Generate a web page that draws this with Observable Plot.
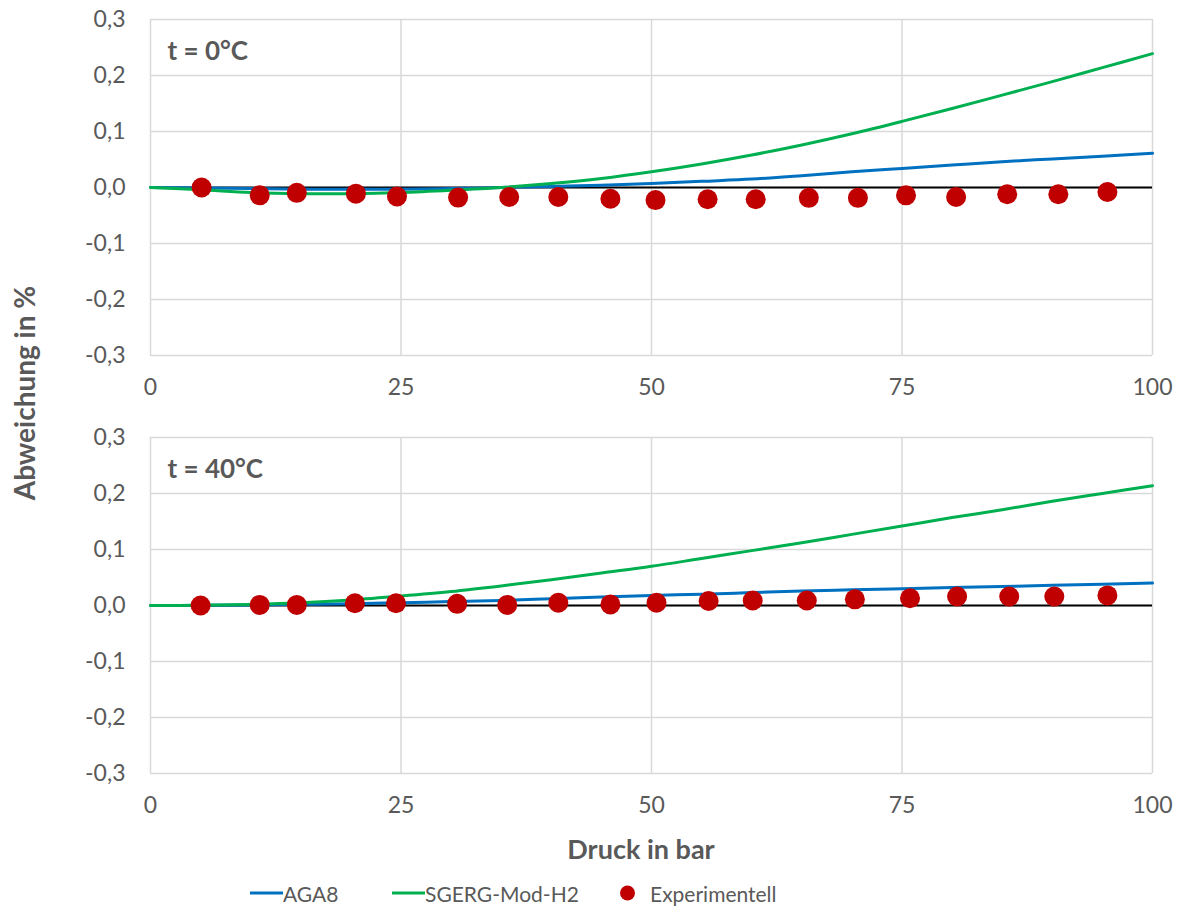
<!DOCTYPE html>
<html><head><meta charset="utf-8">
<script src="https://cdn.jsdelivr.net/npm/d3@7"></script>
<script src="https://cdn.jsdelivr.net/npm/@observablehq/plot@0.6"></script>
<style>
body{margin:0;background:#fff;font-family:Lato,"Open Sans",sans-serif;}
#wrap{position:relative;width:1185px;height:917px;overflow:hidden;}
.panel{position:absolute;left:0;}
.ytitle{position:absolute;left:24px;top:393px;transform:translate(-50%,-50%) rotate(-90deg);font-weight:bold;font-size:28px;color:#595959;white-space:nowrap;}
.xtitle{position:absolute;left:641px;top:848px;transform:translate(-50%,-50%);font-weight:bold;font-size:27px;color:#595959;white-space:nowrap;}
.legend{position:absolute;top:893px;left:0;width:1185px;height:0;}
.item{position:absolute;top:0;transform:translateY(-50%);display:flex;align-items:center;font-size:21px;color:#595959;white-space:nowrap;}
.sw{display:inline-block;width:33px;height:3px;}
.dot{display:inline-block;width:15px;height:15px;border-radius:50%;background:#c00000;margin-right:15px;}
</style></head><body><div id="wrap">
<div class="ytitle">Abweichung in %</div>
<div class="xtitle">Druck in bar</div>
<div class="legend">
 <div class="item" style="left:250px"><span class="sw" style="background:#0070c0"></span>AGA8</div>
 <div class="item" style="left:392px"><span class="sw" style="background:#00b050"></span>SGERG-Mod-H2</div>
 <div class="item" style="left:620px"><span class="dot"></span>Experimentell</div>
</div>
</div>
<script>
// Modell-Kurven (Druck in bar)
const modelP = [0,5,10,15,20,25,30,35,40,45,50,55,60,65,70,75,80,85,90,95,100];
const aga8_0C  = [0,-0.001,-0.002,-0.003,-0.003,-0.003,-0.002,0,0.002,0.004,0.007,0.011,0.015,0.021,0.028,0.034,0.040,0.046,0.051,0.056,0.061];
const sgerg_0C = [0,-0.004,-0.009,-0.011,-0.011,-0.009,-0.005,0.0,0.007,0.016,0.028,0.042,0.058,0.076,0.096,0.118,0.141,0.165,0.189,0.214,0.239];
const aga8_40C  = [0,0.0003,0.001,0.002,0.003,0.005,0.007,0.009,0.012,0.015,0.018,0.020,0.023,0.026,0.028,0.030,0.032,0.034,0.036,0.038,0.040];
const sgerg_40C = [0,0.0005,0.002,0.005,0.010,0.017,0.025,0.035,0.046,0.058,0.070,0.084,0.098,0.112,0.127,0.142,0.157,0.171,0.186,0.200,0.214];
// Experimentelle Werte
const expP_0C   = [5.1,10.9,14.6,20.5,24.6,30.7,35.8,40.7,45.9,50.4,55.6,60.4,65.7,70.6,75.4,80.4,85.5,90.6,95.5];
const expDev_0C = [0.000,-0.014,-0.0095,-0.011,-0.016,-0.018,-0.017,-0.017,-0.020,-0.0225,-0.021,-0.021,-0.0185,-0.0185,-0.014,-0.017,-0.012,-0.012,-0.008];
const expP_40C   = [5.0,10.9,14.6,20.4,24.5,30.6,35.6,40.7,45.9,50.5,55.7,60.1,65.5,70.3,75.8,80.5,85.7,90.2,95.5];
const expDev_40C = [0.000,0.001,0.001,0.004,0.004,0.003,0.001,0.005,0.002,0.005,0.008,0.009,0.009,0.011,0.013,0.016,0.016,0.016,0.018];
// Achsen
const xTicks = [0,25,50,75,100];
const yTicks = [-0.3,-0.2,-0.1,0,0.1,0.2,0.3];
const panelLabels = ["t = 0°C","t = 40°C"];

const fmt = v => d3.format(".1f")(v).replace(".",",").replace("−","-");

function panel(label, aga, sgerg, ep, ed, mTop, mBottom){
  const agaD = modelP.map((p,i)=>({p, v:aga[i]}));
  const sgD = modelP.map((p,i)=>({p, v:sgerg[i]}));
  const exD = ep.map((p,i)=>({p, v:ed[i]}));
  return Plot.plot({
    width:1185, height:mTop+336+mBottom,
    marginLeft:150, marginRight:33, marginTop:mTop, marginBottom:mBottom,
    style:{fontFamily:"Lato, 'Open Sans', sans-serif", fontSize:"23px", color:"#595959", background:"white"},
    x:{domain:[0,100]},
    y:{domain:[-0.3,0.3]},
    marks:[
      Plot.gridX(xTicks,{stroke:"#d9d9d9", strokeOpacity:1, strokeWidth:1.5}),
      Plot.gridY(yTicks,{stroke:"#d9d9d9", strokeOpacity:1, strokeWidth:1.5}),
      Plot.axisY({ticks:yTicks, tickFormat:fmt, tickSize:0, tickPadding:25, label:null}),
      Plot.axisX({ticks:xTicks, tickFormat:d=>String(d), tickSize:0, tickPadding:23, label:null}),
      Plot.ruleY([0],{stroke:"black", strokeWidth:1.8}),
      Plot.line(agaD,{x:"p", y:"v", stroke:"#0070c0", strokeWidth:3, curve:"catmull-rom"}),
      Plot.line(sgD,{x:"p", y:"v", stroke:"#00b050", strokeWidth:3, curve:"catmull-rom"}),
      Plot.dot(exD,{x:"p", y:"v", r:10, fill:"#c00000", stroke:"none"}),
      Plot.text([label],{frameAnchor:"top-left", textAnchor:"start", lineAnchor:"middle", dx:17, dy:32, fontWeight:"bold", fontSize:26, fill:"#595959"})
    ]
  });
}
const wrap = document.getElementById("wrap");
const p1 = panel(panelLabels[0], aga8_0C, sgerg_0C, expP_0C, expDev_0C, 19, 45);
p1.classList.add("panel"); p1.style.top="0px";
const p2 = panel(panelLabels[1], aga8_40C, sgerg_40C, expP_40C, expDev_40C, 37, 45);
p2.classList.add("panel"); p2.style.top="400px";
wrap.prepend(p2); wrap.prepend(p1);
</script>
</body></html>
